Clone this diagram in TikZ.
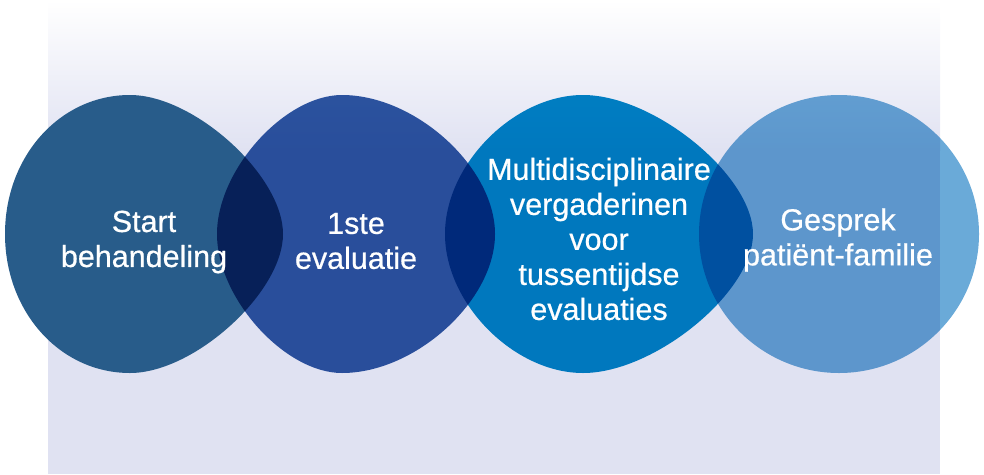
\documentclass[tikz,border=0pt]{standalone}
\usepackage{fontspec}
\setmainfont{Liberation Sans}
\newfontfamily\labelfont{Liberation Sans}[FakeBold=0.6]
\usepackage{xcolor}
\usetikzlibrary{calc}

\definecolor{lavender}{RGB}{224,226,242}
\definecolor{blobA}{RGB}{40,92,138}
\definecolor{blobB}{RGB}{47,89,164}
\definecolor{blobC}{RGB}{0,136,201}
\definecolor{blobD}{RGB}{106,170,216}

\begin{document}
\begin{tikzpicture}[x=1pt, y=-1pt, blob/.style={blend mode=multiply},
  every node/.style={text=white, align=center, inner sep=0pt, font=\labelfont\fontsize{30.5}{35}\selectfont}]
\useasboundingbox (0,0) rectangle (984,474);

% background
\shade[top color=white, bottom color=lavender] (48,0) rectangle (940,150);
\fill[lavender] (48,150) rectangle (940,474);

\def\cy{234}
\def\ry{139}

\foreach \cx/\rx/\dx/\kl/\kr/\col/\mode in {144/139/-14/0.56/0.42/blobA/normal, 356/139/-14/0.46/0.48/blobB/multiply, 599/154/-16/0.5/0.42/blobC/multiply, 839/140/0/0.55/0.55/blobD/multiply} {
  \pgfmathsetmacro{\xl}{\cx-\rx}
  \pgfmathsetmacro{\xr}{\cx+\rx}
  \pgfmathsetmacro{\xt}{\cx+\dx}
  \pgfmathsetmacro{\hl}{\kl*(\rx+\dx)}
  \pgfmathsetmacro{\hr}{\kr*(\rx-\dx)}
  \fill[blend mode=\mode, \col]
    (\xl,\cy)
    .. controls (\xl,\cy-\kl*\ry) and (\xt-\hl,\cy-\ry)
    .. (\xt,\cy-\ry)
    .. controls (\xt+\hr,\cy-\ry) and (\xr,\cy-\kr*\ry)
    .. (\xr,\cy)
    .. controls (\xr,\cy+\kr*\ry) and (\xt+\hr,\cy+\ry)
    .. (\xt,\cy+\ry)
    .. controls (\xt-\hl,\cy+\ry) and (\xl,\cy+\kl*\ry)
    .. (\xl,\cy) -- cycle;
}

\node (start) at (144,242) {Start\\behandeling};
\node (eerste) at (356,241) {1ste\\evaluatie};
\node (overleg) at (599,239) {Multidisciplinaire\\vergaderinen\\voor\\tussentijdse\\evaluaties};
\node (gesprek) at (838,240) {Gesprek\\patiënt-familie};

\end{tikzpicture}
\end{document}
